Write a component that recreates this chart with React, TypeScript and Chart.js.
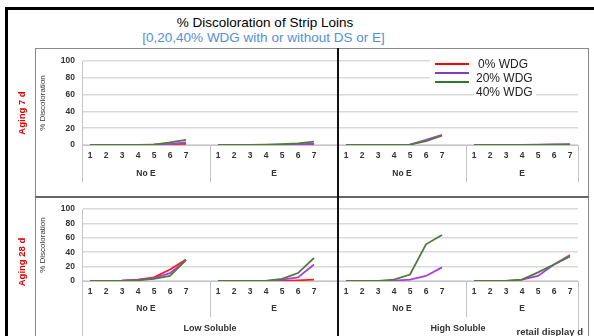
import React, { useEffect, useRef } from 'react';
import { Chart, registerables } from 'chart.js';

Chart.register(...registerables);

const DAYS = ['1', '2', '3', '4', '5', '6', '7'];
const GROUPS = ['No E', 'E', 'No E', 'E'];
const SOLUBILITY = ['Low Soluble', 'High Soluble'];
const SERIES = ['0% WDG', '20% WDG', '40% WDG'];
const AGING = ['Aging 7 d', 'Aging 28 d'];
const Y_TICKS = [0, 20, 40, 60, 80, 100];
const X_TITLE = 'retail display d';
const Y_TITLE = '% Discoloration';
const TITLE = '% Discoloration of Strip Loins';
const SUBTITLE = '[0,20,40% WDG with or without DS or E]';

// values per group: [Low No E, Low E, High No E, High E]; null = no data
const WDG0_7D = [[0, 0, 0, 0, 0.3, 1, 1.5], [0, 0, 0, 0, 0, 0.3, 0.5], null, null];
const WDG20_7D = [[0, 0, 0, 0, 0.3, 1.2, 3], [0, 0, 0, 0, 0.3, 0.8, 1.5], [0, 0, 0, 0, 0.5, 6, 12], [0, 0, 0, 0, 0.5, 0.8, 1]];
const WDG40_7D = [[0, 0, 0, 0, 0.5, 3, 6], [0, 0, 0, 0.3, 1, 2, 4], [0, 0, 0, 0, 0.5, 4.5, 11], [0, 0, 0, 0, 0, 0.3, 0.5]];
const WDG0_28D = [[0, 0, 0.5, 2, 5, 16, 30], [0, 0, 0, 0, 0.3, 1, 2], null, null];
const WDG20_28D = [[0, 0.3, 0.5, 1.5, 4, 11, 29], [0, 0, 0, 0, 2, 5, 23], [0, 0, 0, 0.5, 2, 7, 19], [0, 0, 0, 2, 7, 23, 36]];
const WDG40_28D = [[0, 0, 0.3, 1, 3, 7, 29], [0, 0, 0, 0, 3, 11, 32], [0, 0, 0.3, 2, 9, 51, 64], [0, 0, 0, 2, 12, 23, 34]];

const LINE_COLORS = ['#ff1a1a', '#a83fe0', '#4f7c3b'];
const LEGEND_COLORS = ['#ff0000', '#7d3fc0', '#2a7b2a'];
const FONT = '"Liberation Sans", Arial, sans-serif';

const LABELS = GROUPS.flatMap((_, g) => (g < GROUPS.length - 1 ? [...DAYS, ''] : [...DAYS]));

function flatten(groups: (number[] | null)[]) {
  return groups.flatMap((vals, g) => {
    const v = vals ?? DAYS.map(() => null);
    return g < groups.length - 1 ? [...v, null] : v;
  });
}

const ROWS = [
  { data: [WDG0_7D, WDG20_7D, WDG40_7D], top: 48, height: 149, padTop: 13, xHeight: 52, groupY: 126, sepInner: 134, sepOuter: 134, legend: true, soluble: false },
  { data: [WDG0_28D, WDG20_28D, WDG40_28D], top: 197, height: 139, padTop: 9, xHeight: 55, groupY: 112, sepInner: 120, sepOuter: 139, legend: false, soluble: true },
];

function text(ctx: CanvasRenderingContext2D, s: string, x: number, y: number, font: string, color: string, align: CanvasTextAlign = 'center', rot = false) {
  ctx.save();
  ctx.font = font;
  ctx.fillStyle = color;
  ctx.textAlign = align;
  ctx.textBaseline = 'middle';
  ctx.translate(x, y);
  if (rot) ctx.rotate(-Math.PI / 2);
  ctx.fillText(s, 0, 0);
  ctx.restore();
}

function overlay(r: number) {
  const row = ROWS[r];
  return {
    id: 'overlay' + r,
    afterDraw(chart: any) {
      const ctx: CanvasRenderingContext2D = chart.ctx;
      const xs = chart.scales.x;
      const a = chart.chartArea;
      const slot = xs.getPixelForValue(1) - xs.getPixelForValue(0);
      const per = DAYS.length + 1;
      const bx = (i: number) => (i >= LABELS.length ? a.right : xs.getPixelForValue(i) - slot / 2);
      const bounds = GROUPS.map((_, g) => g * per).concat([LABELS.length]);
      ctx.save();
      ctx.strokeStyle = '#c4c4c4';
      ctx.lineWidth = 1;
      bounds.forEach((b, k) => {
        const outer = k % 2 === 0;
        const x = Math.round(bx(b)) + 0.5;
        ctx.beginPath();
        ctx.moveTo(x, a.bottom);
        ctx.lineTo(x, outer ? row.sepOuter : row.sepInner);
        ctx.stroke();
      });
      ctx.restore();
      GROUPS.forEach((g, k) => {
        const cx = (bx(bounds[k]) + bx(bounds[k + 1])) / 2;
        text(ctx, g, cx, row.groupY, `bold 8.5px ${FONT}`, '#333');
      });
      if (row.soluble) {
        SOLUBILITY.forEach((s, k) => {
          const cx = (bx(bounds[k * 2]) + bx(bounds[k * 2 + 2])) / 2;
          text(ctx, s, cx, 131.5, `bold 9px ${FONT}`, '#333');
        });
        text(ctx, X_TITLE, 583, 135.5, `bold 9.5px ${FONT}`, '#333', 'right');
      }
      text(ctx, Y_TITLE, 43, (a.top + a.bottom) / 2, `8px ${FONT}`, '#333', 'center', true);
      text(ctx, AGING[r], 22, 65, `bold 9.5px ${FONT}`, '#e00000', 'center', true);
      if (row.legend) {
        ctx.save();
        ctx.fillStyle = '#ffffff';
        ctx.fillRect(430, 8, 148, 31);
        ctx.fillRect(474, 39, 62, 12);
        const ly = [16, 25, 34];
        const ty = [17, 30.5, 45];
        SERIES.forEach((s, i) => {
          ctx.strokeStyle = LEGEND_COLORS[i];
          ctx.lineWidth = 2;
          ctx.beginPath();
          ctx.moveTo(435, ly[i]);
          ctx.lineTo(469, ly[i]);
          ctx.stroke();
          text(ctx, s, i === 0 ? 478 : 476, ty[i], `12px ${FONT}`, '#222', 'left');
        });
        ctx.restore();
      }
    },
  };
}

function RowChart({ r }: { r: number }) {
  const ref = useRef<HTMLCanvasElement>(null);
  const row = ROWS[r];
  useEffect(() => {
    const tickFont = { family: FONT, size: 8.5, weight: 'bold' as const };
    const chart = new Chart(ref.current!, {
      type: 'line',
      data: {
        labels: LABELS,
        datasets: row.data.map((d, i) => ({
          label: SERIES[i],
          data: flatten(d),
          borderColor: LINE_COLORS[i],
          backgroundColor: LINE_COLORS[i],
          borderWidth: 1.8,
          pointRadius: 0,
          tension: 0,
          spanGaps: false,
          fill: false,
          order: SERIES.length - i,
        })),
      },
      options: {
        animation: false,
        responsive: false,
        maintainAspectRatio: false,
        layout: { padding: { top: row.padTop, right: 16, left: 0, bottom: 0 } },
        plugins: { legend: { display: false }, tooltip: { enabled: false }, title: { display: false } },
        scales: {
          x: {
            type: 'category',
            offset: true,
            grid: { display: false, drawTicks: false },
            border: { display: true, color: '#c4c4c4', width: 1 },
            ticks: { autoSkip: false, maxRotation: 0, minRotation: 0, padding: 6, font: tickFont, color: '#333' },
            afterFit: (s: any) => { s.height = row.xHeight; },
          },
          y: {
            min: Y_TICKS[0],
            max: Y_TICKS[Y_TICKS.length - 1],
            afterBuildTicks: (s: any) => { s.ticks = Y_TICKS.map((v) => ({ value: v })); },
            grid: { color: '#dadada', lineWidth: 1.5, drawTicks: false },
            border: { display: true, color: '#c4c4c4', width: 1 },
            ticks: { padding: 7, font: tickFont, color: '#333' },
            afterFit: (s: any) => { s.width = 82; },
          },
        },
      },
      plugins: [overlay(r)],
    } as any);
    return () => chart.destroy();
  }, []);
  return (
    <canvas
      ref={ref}
      width={594}
      height={row.height}
      style={{ position: 'absolute', left: 0, top: row.top, width: 594, height: row.height }}
    />
  );
}

export default function App() {
  return (
    <div style={{ position: 'fixed', left: 0, top: 0, width: 594, height: 336, background: '#fff', overflow: 'hidden' }}>
      <div style={{ position: 'absolute', left: 5, top: 7, width: 700, height: 400, borderTop: '3px solid #000', borderLeft: '3px solid #000' }} />
      <div style={{ position: 'absolute', left: 35, top: 48, width: 554, height: 400, border: '1px solid #8a8a8a', boxSizing: 'border-box' }} />
      <div style={{ position: 'absolute', left: 0, width: 530, top: 15, textAlign: 'center', font: `13.5px ${FONT}`, lineHeight: '16px', color: '#000', whiteSpace: 'nowrap' }}>{TITLE}</div>
      <div style={{ position: 'absolute', left: 0, width: 527, top: 30, textAlign: 'center', font: `13.5px ${FONT}`, lineHeight: '16px', color: '#558ed5', whiteSpace: 'nowrap' }}>{SUBTITLE}</div>
      <RowChart r={0} />
      <RowChart r={1} />
      <div style={{ position: 'absolute', left: 35, top: 196, width: 554, height: 2, background: '#666' }} />
      <div style={{ position: 'absolute', left: 337, top: 48, width: 1.5, height: 300, background: '#111' }} />
    </div>
  );
}
